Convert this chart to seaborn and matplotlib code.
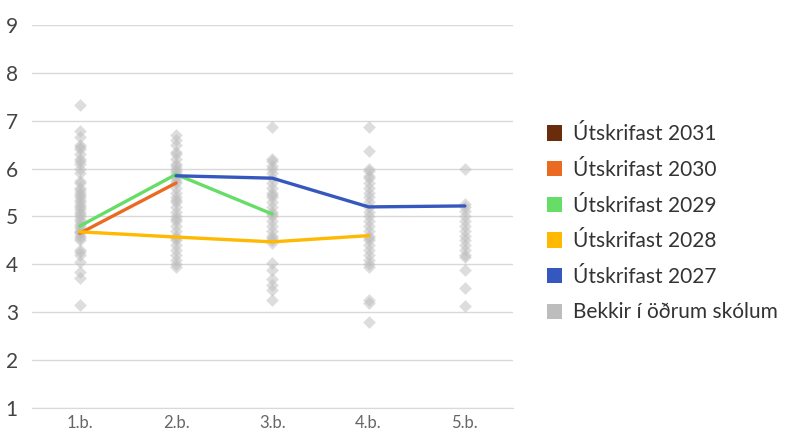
import numpy as np
import pandas as pd
import seaborn as sns
import matplotlib.pyplot as plt
from matplotlib.patches import Patch

grades = ['1.b.', '2.b.', '3.b.', '4.b.', '5.b.']

# other schools (grey diamonds), one list per grade
other_1 = [7.33, 6.78, 6.65, 6.5, 6.45, 6.4, 6.3, 6.2, 6.15, 6.1, 6.0, 5.9, 5.75, 5.7, 5.6,
           5.55, 5.5, 5.45, 5.4, 5.35, 5.3, 5.25, 5.2, 5.15, 5.1, 5.05, 5.0, 4.95, 4.9, 4.85,
           4.8, 4.75, 4.7, 4.68, 4.65, 4.6, 4.55, 4.5, 4.3, 4.25, 4.2, 4.05, 3.85, 3.72, 3.15]
other_2 = [6.7, 6.6, 6.5, 6.35, 6.3, 6.2, 6.1, 6.05, 6.0, 5.95, 5.9, 5.85, 5.8, 5.75, 5.7,
           5.6, 5.5, 5.4, 5.35, 5.3, 5.2, 5.1, 5.0, 4.95, 4.9, 4.8, 4.7, 4.6, 4.55, 4.5,
           4.4, 4.3, 4.2, 4.1, 4.0, 3.95]
other_3 = [6.87, 6.2, 6.15, 6.05, 6.0, 5.9, 5.8, 5.7, 5.6, 5.5, 5.45, 5.4, 5.3, 5.2, 5.1,
           5.05, 5.0, 4.9, 4.8, 4.7, 4.6, 4.55, 4.5, 4.45, 4.02, 3.88, 3.7, 3.56, 3.46, 3.25]
other_4 = [6.87, 6.37, 6.0, 5.95, 5.85, 5.8, 5.7, 5.6, 5.5, 5.4, 5.3, 5.2, 5.1, 5.0, 4.9,
           4.8, 4.7, 4.6, 4.55, 4.5, 4.4, 4.3, 4.2, 4.1, 4.0, 3.94, 3.25, 3.19, 2.79]
other_5 = [6.0, 5.27, 5.2, 5.12, 5.0, 4.9, 4.8, 4.7, 4.6, 4.5, 4.4, 4.3, 4.2, 4.15, 3.88,
           3.5, 3.12]

# cohort lines
y2031 = [np.nan, np.nan, np.nan, np.nan, np.nan]
y2030 = [4.65, 5.7, np.nan, np.nan, np.nan]
y2029 = [4.8, 5.88, 5.05, np.nan, np.nan]
y2028 = [4.68, 4.57, 4.47, 4.6, np.nan]
y2027 = [np.nan, 5.85, 5.8, 5.2, 5.22]

series_names = ['Útskrifast 2031', 'Útskrifast 2030', 'Útskrifast 2029',
                'Útskrifast 2028', 'Útskrifast 2027']
series_vals = [y2031, y2030, y2029, y2028, y2027]
colors = ['#6B2C0C', '#EB6A22', '#66DD66', '#FFB900', '#3558BE']
grey = '#BDBDBD'

others = pd.DataFrame({
    'grade': sum([[g] * len(v) for g, v in zip(grades, [other_1, other_2, other_3, other_4, other_5])], []),
    'value': other_1 + other_2 + other_3 + other_4 + other_5,
})

lines = pd.DataFrame({
    'grade': grades * len(series_names),
    'value': sum(series_vals, []),
    'series': sum([[n] * len(grades) for n in series_names], []),
}).dropna()

sns.set_style('white')
plt.rcParams['font.family'] = ['Lato', 'DejaVu Sans']

fig = plt.figure(figsize=(7.94, 4.38), dpi=100)
ax = fig.add_axes([0.040, 0.0685, 0.606, 0.8745])

sns.stripplot(data=others, x='grade', y='value', order=grades, jitter=False,
              marker='D', size=6.5, color=grey, alpha=0.5, linewidth=0, ax=ax, zorder=2)

for name, col in zip(series_names, colors):
    sub = lines[lines.series == name]
    if len(sub) == 0:
        continue
    sns.pointplot(data=sub, x='grade', y='value', order=grades, color=col,
                  markers='', linewidth=2.4, errorbar=None, ax=ax)

ax.set_ylim(1, 9)
ax.set_xlim(-0.5, 4.5)
ax.set_yticks(range(1, 10))
ax.yaxis.grid(True, color='#D9D9D9', linewidth=1)
ax.set_axisbelow(True)
for s in ['top', 'right', 'left']:
    ax.spines[s].set_visible(False)
ax.spines['bottom'].set_color('#D9D9D9')
ax.set_xlabel('')
ax.set_ylabel('')
ax.tick_params(axis='y', length=0, pad=10, labelsize=15, labelcolor='#444444')
ax.tick_params(axis='x', length=0, pad=5, labelsize=12, labelcolor='#666666')

handles = [Patch(facecolor=c, edgecolor='none') for c in colors] + [Patch(facecolor=grey, edgecolor='none')]
labels = series_names + ['Bekkir í öðrum skólum']
fig.legend(handles, labels, loc='center left', bbox_to_anchor=(0.665, 0.49), frameon=False,
           fontsize=15, handlelength=0.75, handleheight=0.75, handletextpad=0.5,
           labelspacing=0.75, labelcolor='#333333')

fig.savefig('out.png', dpi=100)
